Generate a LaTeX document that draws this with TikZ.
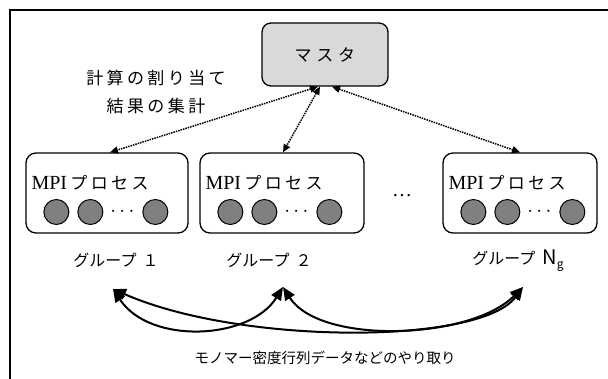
\documentclass[tikz,border=0pt]{standalone}
\usepackage{fontspec}
\setmainfont{Liberation Serif}
\newfontfamily\jp{Noto Sans CJK JP}
\newfontfamily\jpw[LetterSpace=20]{Noto Sans CJK JP}
\newfontfamily\jpm[LetterSpace=28]{Noto Sans CJK JP}
\usetikzlibrary{arrows.meta,calc}
\definecolor{mastergray}{HTML}{D9D9D9}
\definecolor{ballgray}{HTML}{808080}
\begin{document}
\begin{tikzpicture}[x=1pt,y=-1pt,
  grpbox/.style={draw, line width=1.3pt, rounded corners=10pt, minimum height=80pt, inner sep=0pt},
  masterbox/.style={draw, fill=mastergray, line width=1.3pt, rounded corners=9pt, minimum width=126pt, minimum height=63pt, inner sep=0pt},
  ball/.style={circle, draw, fill=ballgray, line width=1pt, minimum size=25pt, inner sep=0pt},
  link/.style={densely dotted, line width=1.5pt, {Triangle[length=8pt,width=7pt]}-{Triangle[length=8pt,width=7pt]}},
  xchg/.style={line width=2pt, {Triangle[length=13pt,width=11pt]}-{Triangle[length=13pt,width=11pt]}},
  jptext/.style={font=\jpw\fontsize{17}{28}\selectfont, inner sep=0pt},
  grplabel/.style={font=\jp\fontsize{16}{18}\selectfont, inner sep=0pt},
  mpilabel/.style={anchor=base west, inner sep=0pt}
]
\useasboundingbox (0,0) rectangle (608,379);
% frame
\draw[line width=1.5pt] (10,385) -- (10,10) -- (615,10);

% master
\node[masterbox] (m) at (325,54.5) {\jpm\fontsize{17}{18}\selectfont マスタ};
\node[jptext, align=center] (lbl) at (156,92) {計算の割り当て\\結果の集計};

% groups
\node[grpbox, minimum width=162pt] (b1) at (107,193) {};
\node[grpbox, minimum width=164pt] (b2) at (282,193) {};
\node[grpbox, minimum width=154pt] (b3) at (520,193) {};

\foreach \b in {b1,b2,b3}{
  \node[mpilabel] (\b t) at ($(\b.west)+(6,-3)$) {\fontsize{20}{22}\selectfont MPI\,{\jpw\fontsize{17}{18}\selectfont プロセス}};
  \node[ball] (\b c1) at ($(\b.west)+(31,19)$) {};
  \node[ball] (\b c2) at ($(\b.west)+(65,19)$) {};
  \node[ball] (\b c3) at ($(\b.west)+(130,19)$) {};
  \node[anchor=base, inner sep=0pt] (\b d) at ($(\b.west)+(97,24)$) {\fontsize{20}{20}\selectfont$\cdots$};
}
\node[anchor=base, inner sep=0pt] (gap) at (402,197) {\fontsize{20}{20}\selectfont …};

% group labels
\node[grplabel] (g1) at (116,260) {グループ\hspace{6pt}１};
\node[grplabel] (g2) at (269,260) {グループ\hspace{6pt}２};
\node[grplabel] (g3) at (518,261) {グループ\hspace{7pt}{\fontsize{20}{20}\selectfont N\raisebox{-4pt}{\fontsize{12}{12}\selectfont g}}};

% master links
\draw[link] ([xshift=-7pt]m.south) -- ([xshift=3pt]b1.north);
\draw[link] ([xshift=-5pt]m.south) -- ([xshift=1pt]b2.north);
\draw[link] ([xshift=7pt]m.south) -- (b3.north);

% exchange curves
\coordinate (pA) at (113,289);
\coordinate (pB) at (283,287);
\coordinate (pC) at (523,287);
\draw[xchg] (pA) .. controls (150,345) and (250,340) .. (pB);
\draw[xchg] (pA) .. controls (240,345) and (480,345) .. (pC);
\draw[xchg] (pB) .. controls (320,345) and (470,340) .. (pC);

\node[font=\jp\fontsize{14.5}{16}\selectfont, inner sep=0pt] (bot) at (325,358) {モノマー密度行列データなどのやり取り};
\end{tikzpicture}
\end{document}
